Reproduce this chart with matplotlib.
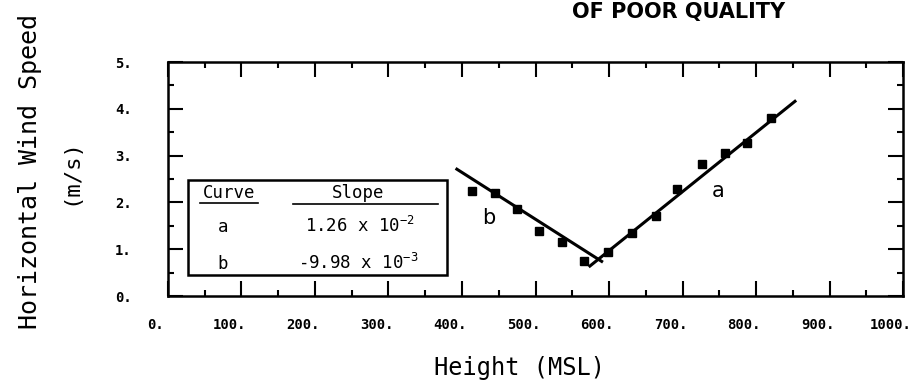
import numpy as np
import matplotlib
matplotlib.use("Agg")
import matplotlib.pyplot as plt
import matplotlib.transforms as mtransforms

plt.rcParams['mathtext.fontset'] = 'custom'
plt.rcParams['mathtext.rm'] = 'DejaVu Sans Mono'
plt.rcParams['mathtext.default'] = 'rm'

# curve a (rising branch)
height_a = [599, 631, 664, 693, 727, 758, 788, 820]
speed_a = [0.95, 1.35, 1.72, 2.29, 2.82, 3.06, 3.27, 3.81]
fit_a_x = [574, 853]
fit_a_y = [0.64, 4.16]

# curve b (falling branch)
height_b = [414, 445, 475, 505, 536, 566]
speed_b = [2.25, 2.20, 1.85, 1.39, 1.16, 0.75]
fit_b_x = [393, 590]
fit_b_y = [2.71, 0.74]

xticks = [0, 100, 200, 300, 400, 500, 600, 700, 800, 900, 1000]
yticks = [0, 1, 2, 3, 4, 5]

fig = plt.figure(figsize=(9.24, 3.88), dpi=100)
ax = fig.add_axes([0.1818, 0.2371, 0.7955, 0.6031])

ax.plot(fit_a_x, fit_a_y, color='black', lw=2.2)
ax.plot(fit_b_x, fit_b_y, color='black', lw=2.2)
ax.plot(height_a, speed_a, 's', color='black', ms=5.5)
ax.plot(height_b, speed_b, 's', color='black', ms=5.5)

ax.text(748, 2.25, 'a', fontsize=15, ha='center', va='center')
ax.text(437, 1.66, 'b', fontsize=15, ha='center', va='center')

ax.set_xlim(0, 1000)
ax.set_ylim(0, 5)
ax.set_xticks(xticks)
ax.set_xticklabels([f'{t}.' for t in xticks])
ax.set_yticks(yticks)
ax.set_yticklabels([f'{t}.' for t in yticks])
ax.set_xticks(np.arange(50, 1000, 100), minor=True)
ax.set_yticks(np.arange(0.5, 5, 1.0), minor=True)

ax.tick_params(which='both', direction='in', top=True, right=True, width=1.5, color='black')
ax.tick_params(which='major', length=11)
ax.tick_params(which='minor', length=4)
ax.tick_params(axis='x', pad=16)
ax.tick_params(axis='y', pad=26)
for lab in ax.get_xticklabels() + ax.get_yticklabels():
    lab.set_fontfamily('DejaVu Sans Mono')
    lab.set_fontweight('bold')
    lab.set_fontsize(10)
shift = mtransforms.ScaledTranslation(-0.12, 0, fig.dpi_scale_trans)
for lab in ax.get_xticklabels():
    lab.set_transform(lab.get_transform() + shift)

for s in ax.spines.values():
    s.set_linewidth(1.8)

# slope table
box = plt.Rectangle((27, 0.45), 353, 2.03, fill=False, lw=1.8, color='black')
ax.add_patch(box)
mono = 'DejaVu Sans Mono'
ax.text(83, 2.2, 'Curve', family=mono, fontsize=12.5, ha='center', va='center')
ax.text(259, 2.2, 'Slope', family=mono, fontsize=12.5, ha='center', va='center')
ax.plot([44, 122], [1.98, 1.98], color='black', lw=1.2)
ax.plot([170, 367], [1.96, 1.96], color='black', lw=1.2)
ax.text(75, 1.48, 'a', family=mono, fontsize=12.5, ha='center', va='center')
ax.text(75, 0.68, 'b', family=mono, fontsize=12.5, ha='center', va='center')
ax.text(261, 1.5, r'1.26 x 10$^{-2}$', family=mono, fontsize=12.5, ha='center', va='center')
ax.text(259, 0.7, r'-9.98 x 10$^{-3}$', family=mono, fontsize=12.5, ha='center', va='center')

fig.text(0.032, 0.557, 'Horizontal Wind Speed', family=mono, fontsize=18,
         rotation=90, ha='center', va='center')
fig.text(0.076, 0.557, '(m/s)', family=mono, fontsize=16,
         rotation=90, ha='center', va='center')
fig.text(0.562, 0.052, 'Height (MSL)', family=mono, fontsize=17, ha='center', va='center')
fig.text(0.734, 0.995, 'OF POOR QUALITY', fontsize=15, fontweight='bold',
         ha='center', va='top')

fig.savefig('out.png', dpi=100)
